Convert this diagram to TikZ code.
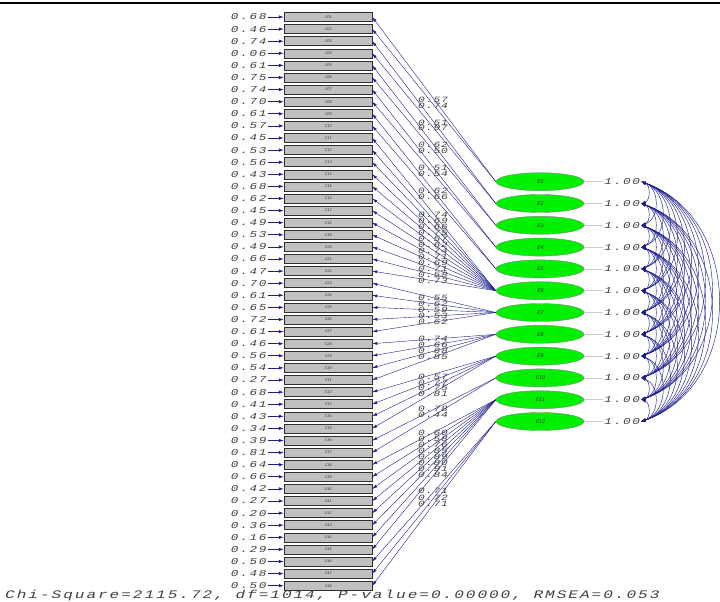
\documentclass[tikz,border=0pt]{standalone}
\usepackage{fontspec}
\usetikzlibrary{arrows.meta, positioning, shapes.geometric, calc}
\newfontfamily\lisfont[FakeStretch=1.4, LetterSpace=20]{Liberation Mono}
\newfontfamily\loadfont[FakeStretch=1.4, LetterSpace=12]{Liberation Mono}
\newfontfamily\fitfont[FakeStretch=1.4, LetterSpace=17]{Liberation Mono}
\definecolor{LisNavy}{HTML}{1E1E90}
\definecolor{LisGrey}{HTML}{C0C0C0}
\definecolor{LisGreen}{HTML}{00F000}
\definecolor{LisDark}{HTML}{303030}
\definecolor{LisText}{HTML}{404040}

\begin{document}
\begin{tikzpicture}[x=1pt, y=-1pt,
    obs/.style={rectangle, draw=LisDark, fill=LisGrey, line width=0.5pt,
                minimum width=88pt, minimum height=9pt, inner sep=0pt,
                font=\fontsize{4}{4}\selectfont\sffamily\itshape, text=LisDark},
    lat/.style={ellipse, draw=LisDark!60, fill=LisGreen, line width=0.4pt,
                minimum width=88pt, minimum height=18pt, inner sep=0pt,
                font=\fontsize{5.5}{6}\selectfont\sffamily\itshape, text=LisDark},
    errlab/.style={inner sep=1pt, font=\fontsize{9}{10}\selectfont\lisfont\itshape, text=LisText},
    loadlab/.style={anchor=west, inner sep=0pt, font=\fontsize{8}{9}\selectfont\loadfont\itshape, text=LisText},
    err/.style={-{Latex[length=5pt,width=3.5pt]}, line width=0.7pt, color=LisNavy},
    load/.style={-{Latex[length=5pt,width=3pt]}, line width=0.4pt, color=LisNavy},
    cov/.style={{Latex[length=4.5pt,width=3pt]}-{Latex[length=4.5pt,width=3pt]}, line width=0.45pt, color=LisNavy},
    varline/.style={color=LisGrey!80, line width=0.5pt},
    node distance=2.6pt
  ]
  \useasboundingbox (0,0) rectangle (720,602);
  \draw[line width=2pt] (0,3) -- (720,3);

  % observed items
  \node[obs] (x1) at (328,17) {C01};
  \foreach \i in {2,...,48}{
    \pgfmathtruncatemacro\prev{\i-1}
    \node[obs, below=of x\prev] (x\i) {C\ifnum\i<10 0\fi\i};
  }

  % error variances
  \foreach \r [count=\i] in {0.68,0.46,0.74,0.06,0.61,0.75,0.74,0.70,0.61,0.57,
      0.45,0.53,0.56,0.43,0.68,0.62,0.45,0.49,0.53,0.49,0.66,0.47,0.70,0.61,
      0.65,0.72,0.61,0.46,0.56,0.54,0.27,0.68,0.41,0.43,0.34,0.39,0.81,0.64,
      0.66,0.42,0.27,0.20,0.36,0.16,0.29,0.50,0.48,0.50}{
    \node[errlab, left=16pt of x\i] (r\i) {\r};
    \draw[err] (r\i) -- (x\i);
  }

  % latent factors
  \node[lat] (e1) at (540,181.7) {E1};
  \foreach \i in {2,...,12}{
    \pgfmathtruncatemacro\prev{\i-1}
    \node[lat, below=3.4pt of e\prev] (e\i) {E\i};
  }
  \foreach \i in {1,...,12}{
    \node[errlab, right=19pt of e\i] (u\i) {1.00};
    \draw[varline] (e\i) -- (u\i);
  }

  % loadings
  \foreach \lam/\f/\ly [count=\i] in {0.57/1/100, 0.74/1/105.5, 0.51/2/122.5, 0.97/2/128,
      0.62/3/145, 0.50/3/150.5, 0.51/4/168, 0.54/4/173.5, 0.62/5/191, 0.66/5/196.5,
      0.74/6/215, 0.69/6/221, 0.66/6/227, 0.75/6/233, 0.57/6/239, 0.62/6/245,
      0.74/6/251, 0.71/6/257, 0.69/6/263, 0.71/6/269, 0.58/6/275, 0.73/6/281,
      0.55/7/298, 0.62/7/304, 0.59/7/310, 0.53/7/316, 0.62/7/322,
      0.74/8/339, 0.66/8/345, 0.68/8/351, 0.85/8/357,
      0.57/9/377, 0.77/9/382.5, 0.75/9/388, 0.81/9/393.5,
      0.78/10/409, 0.44/10/415,
      0.60/11/433, 0.58/11/439, 0.76/11/445, 0.85/11/451, 0.89/11/457,
      0.80/11/463, 0.91/11/469, 0.84/11/475,
      0.71/12/491, 0.72/12/497.5, 0.71/12/504}{
    \draw[load] (e\f.west) -- (x\i.east);
    \node[loadlab] (l\i) at (418,\ly) {\lam};
  }

  % factor covariances
  \foreach \i in {1,...,11}{
    \pgfmathtruncatemacro\nxt{\i+1}
    \foreach \j in {\nxt,...,12}{
      \pgfmathsetmacro\cx{0.43*21.8*(\j-\i)}
      \pgfmathsetmacro\cy{0.15*21.8*(\j-\i)}
      \draw[cov] (u\i.east) .. controls +(\cx,\cy) and +(\cx,-\cy) .. (u\j.east);
    }
  }

  \node[anchor=base west, inner sep=0pt, font=\fontsize{11.5}{12}\selectfont\fitfont\itshape, text=LisText]
    (chisq) at (5,598) {Chi-Square=2115.72, df=1014, P-value=0.00000, RMSEA=0.053};
\end{tikzpicture}
\end{document}
